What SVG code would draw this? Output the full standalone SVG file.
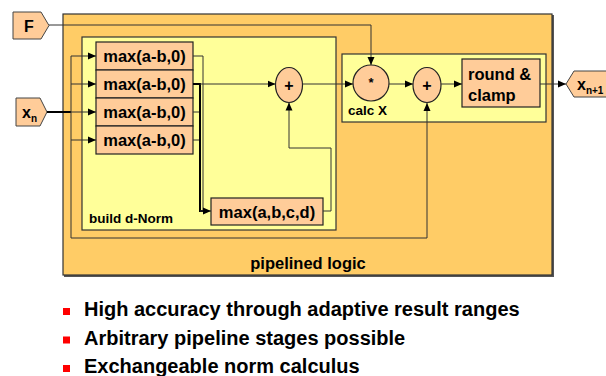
<svg xmlns="http://www.w3.org/2000/svg" width="606" height="376" viewBox="0 0 606 376">
  <defs>
    <marker id="arr" viewBox="0 0 8 8" refX="8" refY="4" markerWidth="8" markerHeight="8" markerUnits="userSpaceOnUse" orient="auto">
      <path d="M0,0.5 L8,4 L0,7.5 Z" fill="#000"/>
    </marker>
    <style>
      text { font-family: "Liberation Sans", Arial, sans-serif; font-weight: bold; fill: #000; }
      .outer { fill: #FFCC66; stroke: #333; stroke-width: 1.2; }
      .yellow { fill: #FFFF99; stroke: #333; stroke-width: 1.2; }
      .peach { fill: #FFCC99; stroke: #222; stroke-width: 1.2; }
      .port { fill: #FFCC99; stroke: #444; stroke-width: 1; }
      .wire { fill: none; stroke: #333; stroke-width: 1; }
      .bus { fill: none; stroke: #000; stroke-width: 2; }
      .box { font-size: 16.5px; }
      .lbl { font-size: 13.5px; }
      .bul { font-size: 20px; }
    </style>
  </defs>

  <!-- pipelined logic container -->
  <g id="pipeline">
    <rect x="64" y="15" width="490" height="262" fill="#555"/>
    <rect class="outer" x="63" y="14" width="489" height="261"/>
    <text x="308" y="269" font-size="16.5" text-anchor="middle">pipelined logic</text>
  </g>

  <!-- d-norm stage -->
  <g id="dnorm">
    <rect class="yellow" x="82" y="37" width="254" height="193"/>
    <text class="lbl" x="89" y="223" font-size="13">build d-Norm</text>
  </g>

  <g id="max1">
    <rect class="peach" x="96" y="42" width="97" height="28"/>
    <text class="box" x="144.5" y="62" text-anchor="middle">max(a-b,0)</text>
  </g>
  <g id="max2">
    <rect class="peach" x="96" y="70" width="97" height="28"/>
    <text class="box" x="144.5" y="90" text-anchor="middle">max(a-b,0)</text>
  </g>
  <g id="max3">
    <rect class="peach" x="96" y="98" width="97" height="28"/>
    <text class="box" x="144.5" y="118" text-anchor="middle">max(a-b,0)</text>
  </g>
  <g id="max4">
    <rect class="peach" x="96" y="126" width="97" height="28"/>
    <text class="box" x="144.5" y="146" text-anchor="middle">max(a-b,0)</text>
  </g>

  <g id="maxall">
    <rect class="peach" x="211" y="198" width="112" height="27"/>
    <text class="box" x="267" y="217.5" text-anchor="middle">max(a,b,c,d)</text>
  </g>

  <g id="add1">
    <ellipse class="peach" cx="289" cy="85" rx="13.5" ry="17.5"/>
    <text x="289" y="91" font-size="16" text-anchor="middle">+</text>
  </g>

  <!-- calc X stage -->
  <g id="calcx">
    <rect class="yellow" x="342" y="54" width="204" height="68"/>
    <text class="lbl" x="348" y="115">calc X</text>
  </g>
  <g id="mul">
    <circle class="peach" cx="371" cy="83" r="18"/>
    <text x="371" y="87" font-size="13" text-anchor="middle">*</text>
  </g>
  <g id="add2">
    <ellipse class="peach" cx="427" cy="85" rx="14" ry="17.5"/>
    <text x="427" y="91" font-size="16" text-anchor="middle">+</text>
  </g>
  <g id="round">
    <rect class="peach" x="462" y="59" width="78" height="48"/>
    <text class="box" x="468" y="79.5">round &amp;</text>
    <text class="box" x="468" y="100.5">clamp</text>
  </g>

  <!-- ports -->
  <g id="portF">
    <polygon class="port" points="13,12 41,12 49,25.5 41,39 13,39"/>
    <text x="29" y="31.5" font-size="16" text-anchor="middle">F</text>
  </g>
  <g id="portXn">
    <polygon class="port" points="16,98 40,98 47,112 40,126 16,126"/>
    <text x="22" y="117.5" font-size="16">x<tspan font-size="10" dy="4">n</tspan></text>
  </g>
  <g id="portXn1">
    <polygon class="port" points="566,84 574,71 612,71 612,97 574,97"/>
    <text x="577" y="89.5" font-size="16">x<tspan font-size="10" dy="4">n+1</tspan></text>
  </g>

  <!-- connectors -->
  <g id="connectors">
    <path class="wire" d="M49,25 H371 V65" marker-end="url(#arr)"/>
    <path class="bus" d="M47,112 H71"/>
    <path class="wire" stroke-width="1.5" d="M71,56 V238 H427 V103" marker-end="url(#arr)"/>
    <path class="wire" d="M71,56 H96" marker-end="url(#arr)"/>
    <path class="wire" d="M71,84 H96" marker-end="url(#arr)"/>
    <path class="wire" d="M71,112 H96" marker-end="url(#arr)"/>
    <path class="wire" d="M71,140 H96" marker-end="url(#arr)"/>
    <path class="wire" d="M193,56 H203 V211"/>
    <path class="wire" d="M193,112 H201"/>
    <path class="wire" d="M193,140 H201"/>
    <path class="bus" d="M193,84 H200 V211 H203"/>
    <path class="wire" d="M200,211 H211" marker-end="url(#arr)"/>
    <path class="wire" d="M200,84 H275.5" marker-end="url(#arr)"/>
    <path class="wire" d="M323,211 H331 V148 H289 V102.5" marker-end="url(#arr)"/>
    <path class="wire" d="M302.5,84 H353" marker-end="url(#arr)"/>
    <path class="wire" d="M389,84 H413" marker-end="url(#arr)"/>
    <path class="wire" d="M441,84 H462" marker-end="url(#arr)"/>
    <path class="wire" d="M540,84 H566" marker-end="url(#arr)"/>
  </g>

  <!-- feature list -->
  <g id="bullets">
    <rect x="63" y="308" width="7" height="7" fill="#FF0000"/>
    <rect x="63" y="336.5" width="7" height="7" fill="#FF0000"/>
    <rect x="63" y="365" width="7" height="7" fill="#FF0000"/>
    <text class="bul" x="84" y="316">High accuracy through adaptive result ranges</text>
    <text class="bul" x="84" y="344.5">Arbitrary pipeline stages possible</text>
    <text class="bul" x="84" y="373">Exchangeable norm calculus</text>
  </g>
</svg>
